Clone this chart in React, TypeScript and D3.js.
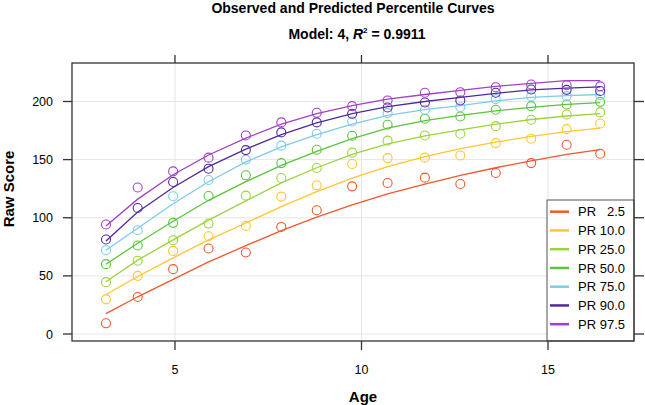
import React from "react";
import * as d3 from "d3";

const ages = [3.15, 4.0, 4.95, 5.9, 6.9, 7.85, 8.8, 9.75, 10.7, 11.7, 12.65, 13.6, 14.55, 15.5, 16.4];

const seriesNames = ["PR   2.5", "PR 10.0", "PR 25.0", "PR 50.0", "PR 75.0", "PR 90.0", "PR 97.5"];
const seriesColors = ["#F0582E", "#FFC72C", "#9BD43C", "#58C63A", "#7FCBEB", "#4F2A9F", "#A43FC6"];

const obs025 = [9.2, 31.8, 55.8, 73.5, 70.1, 92.1, 106.4, 127, 129.9, 134.5, 129, 138.5, 147, 162.8, 155.1];
const obs10 = [29.8, 50, 71.5, 84.1, 93, 118.2, 127.9, 146.2, 151.3, 151.7, 153.6, 164.2, 168, 176.2, 181.1];
const obs25 = [44.6, 63, 80.7, 95, 119, 134.2, 142.8, 156, 166.3, 170.8, 172.2, 178.8, 184.3, 188.8, 190.6];
const obs50 = [60.1, 76.1, 95.6, 118.7, 136.5, 147, 158.5, 170.5, 180, 185.2, 187.1, 192.9, 196, 197.4, 199.7];
const obs75 = [72.1, 89.3, 118.5, 132.5, 150, 162, 172.2, 182.8, 190, 192.9, 195.1, 202, 204.3, 204.6, 205.4];
const obs90 = [81.3, 108.4, 130.7, 142.2, 158.2, 173.4, 182, 189.4, 194.8, 199.1, 200.9, 207.5, 210.3, 210, 209];
const obs975 = [94.2, 126, 139.9, 151.7, 170.8, 182, 190.3, 196, 200.9, 207.5, 208, 212.3, 214.6, 214, 213];

const pred025 = [17.5, 32, 47, 62, 76, 89, 100.5, 111, 120.5, 129, 136.5, 143, 149, 154.5, 158.5];
const pred10 = [34, 49.5, 65.5, 81, 95.5, 109.5, 122.5, 134, 144, 152.5, 159.5, 165, 170, 174, 177];
const pred25 = [45, 63.5, 81, 98, 114.5, 130, 143, 154.5, 163.5, 170.5, 175.5, 180.5, 184.5, 187.5, 189.5];
const pred50 = [60, 78, 97, 115, 131, 145, 157, 168, 177, 183.5, 188, 192, 195, 197.5, 199];
const pred75 = [72, 91, 112, 131, 148, 161, 171.5, 180.5, 188, 193, 196.5, 200.5, 203.5, 205, 206];
const pred90 = [80, 105, 126, 144, 159, 171.5, 181.5, 189.5, 195.5, 200, 203.5, 207, 210, 211.5, 212.5];
const pred975 = [93, 116, 137, 154, 168.5, 180.5, 189.5, 196.5, 202, 206, 209.5, 213, 215.5, 218, 218];

const observed = [obs025, obs10, obs25, obs50, obs75, obs90, obs975];
const predicted = [pred025, pred10, pred25, pred50, pred75, pred90, pred975];

const xTicks = [5, 10, 15];
const yTicks = [0, 50, 100, 150, 200];

const FONT = "'Liberation Sans', Arial, Helvetica, sans-serif";

export default function App() {
  const W = 645, H = 405;
  const left = 72, right = 634, top = 63, bottom = 341;
  const x = d3.scaleLinear().domain([2.239, 17.306]).range([left, right]);
  const y = d3.scaleLinear().domain([-6.02, 233.1]).range([bottom, top]);
  const line = d3.line<number>().x((_, i) => x(ages[i])).y((v) => y(v));

  const legX = 547, legTop = 200;
  return (
    <svg width={W} height={H} style={{ position: "absolute", left: 0, top: 0, background: "#fff" }} fontFamily={FONT}>
      <rect x={0} y={0} width={W} height={H} fill="#fff" />
      {xTicks.map((t) => (
        <line key={"gx" + t} x1={x(t)} x2={x(t)} y1={top} y2={bottom} stroke="#e6e6e6" strokeWidth={1} />
      ))}
      {yTicks.map((t) => (
        <line key={"gy" + t} x1={left} x2={right} y1={y(t)} y2={y(t)} stroke="#e6e6e6" strokeWidth={1} />
      ))}
      {predicted.map((p, k) => (
        <path key={"l" + k} d={line(p) || ""} fill="none" stroke={seriesColors[k]} strokeWidth={1.3} />
      ))}
      {observed.map((o, k) =>
        o.map((v, i) => (
          <circle key={"c" + k + "-" + i} cx={x(ages[i])} cy={y(v)} r={4.5} fill="none" stroke={seriesColors[k]} strokeWidth={1.1} />
        ))
      )}
      <rect x={legX} y={legTop} width={right - legX} height={bottom - legTop} fill="#fff" stroke="#555" strokeWidth={1} />
      {seriesNames.map((n, k) => {
        const yy = 211.7 + k * 18.75;
        const parts = n.split(/\s+/);
        return (
          <g key={"lg" + k}>
            <line x1={550} x2={569} y1={yy} y2={yy} stroke={seriesColors[k]} strokeWidth={2.5} />
            <text x={578} y={yy + 4.6} fontSize={13} fill="#000">{parts[0]}</text>
            <text x={625} y={yy + 4.6} fontSize={13} fill="#000" textAnchor="end">{parts[1]}</text>
          </g>
        );
      })}
      <rect x={left} y={top} width={right - left} height={bottom - top} fill="none" stroke="#333" strokeWidth={1.3} />
      {xTicks.map((t) => (
        <g key={"tx" + t}>
          <line x1={x(t)} x2={x(t)} y1={bottom} y2={bottom + 9} stroke="#333" strokeWidth={1.3} />
          <line x1={x(t)} x2={x(t)} y1={top} y2={top - 8} stroke="#333" strokeWidth={1.3} />
          <text x={x(t)} y={bottom + 33} fontSize={12.5} textAnchor="middle" fill="#000">{t}</text>
        </g>
      ))}
      {yTicks.map((t) => (
        <g key={"ty" + t}>
          <line x1={left - 9} x2={left} y1={y(t)} y2={y(t)} stroke="#333" strokeWidth={1.3} />
          <line x1={right} x2={right + 10} y1={y(t)} y2={y(t)} stroke="#333" strokeWidth={1.3} />
          <text x={53} y={y(t) + 4.5} fontSize={12.5} textAnchor="end" fill="#000">{t}</text>
        </g>
      ))}
      <text x={353} y={13} fontSize={14} fontWeight="bold" textAnchor="middle" fill="#000">
        Observed and Predicted Percentile Curves
      </text>
      <text x={357} y={39} fontSize={14} fontWeight="bold" textAnchor="middle" fill="#000">
        Model: 4, <tspan fontStyle="italic">R</tspan>
        <tspan fontSize={8} dy={-6}>2</tspan>
        <tspan dy={6}> = 0.9911</tspan>
      </text>
      <text x={363} y={402} fontSize={15} fontWeight="bold" textAnchor="middle" fill="#000">Age</text>
      <text transform="translate(14,189) rotate(-90)" fontSize={15} fontWeight="bold" textAnchor="middle" fill="#000">
        Raw Score
      </text>
    </svg>
  );
}
